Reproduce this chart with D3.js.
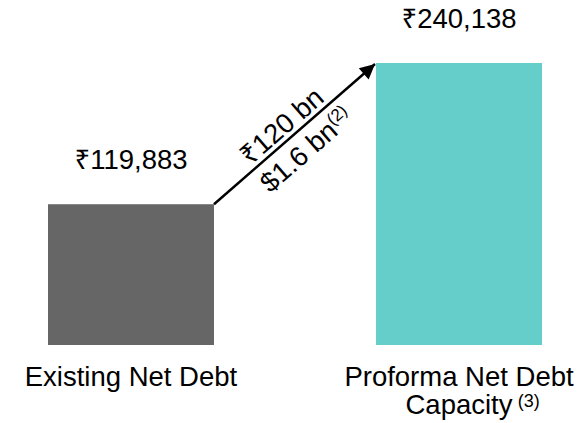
<!DOCTYPE html>
<html><head><meta charset="utf-8">
<script src="https://cdn.jsdelivr.net/npm/d3@7"></script>
<style>
body{margin:0;background:#fff;}
text{font-family:"Liberation Sans",Arial,sans-serif;fill:#000;}
</style></head>
<body>
<svg id="c" width="585" height="423"></svg>
<script>
const categories = ["Existing Net Debt", "Proforma Net Debt Capacity"];
const values = [119883, 240138];
const valueLabels = ["₹119,883", "₹240,138"];
const categoryLines = [["Existing Net Debt"], ["Proforma Net Debt", "Capacity"]];
const categoryNotes = ["", "(3)"];
const colors = ["#666666", "#66CECA"];
const arrowTop = "₹120 bn";
const arrowBottom = "$1.6 bn";
const arrowNote = "(2)";

const svg = d3.select("#c");
const x = d3.scaleBand().domain(categories).range([48, 542]).paddingInner(0.494);
const y = d3.scaleLinear().domain([0, 240138]).range([345, 63]);
const fs = 27.5;

function rupeeText(sel, str) {
  if (str.startsWith("₹")) {
    sel.append("tspan").style("font-family", "'Noto Sans', sans-serif").text("₹");
    sel.append("tspan").text(str.slice(1));
  } else sel.append("tspan").text(str);
}

svg.selectAll("rect.bar").data(values).enter().append("rect")
  .attr("x", (d,i)=>x(categories[i]))
  .attr("y", d=>y(d))
  .attr("width", x.bandwidth())
  .attr("height", d=>y(0)-y(d))
  .attr("fill", (d,i)=>colors[i]);

values.forEach((d,i)=>{
  const t = svg.append("text")
    .attr("x", x(categories[i])+x.bandwidth()/2)
    .attr("y", y(d)-35)
    .attr("text-anchor","middle")
    .attr("font-size", fs);
  rupeeText(t, valueLabels[i]);
});

categories.forEach((c,i)=>{
  const cx = x(c)+x.bandwidth()/2;
  const lines = categoryLines[i];
  lines.forEach((ln,j)=>{
    const last = j===lines.length-1 && categoryNotes[i];
    const by = 386 + j*28;
    const t = svg.append("text").attr("x", cx).attr("y", by)
      .attr("text-anchor","middle").attr("font-size", fs).text(ln);
    if (last) {
      const bb = t.node().getBBox();
      svg.append("text").attr("x", bb.x + bb.width + 5).attr("y", by - 7)
        .attr("font-size", 18).text(categoryNotes[i]);
    }
  });
});

// arrow
const x0 = x(categories[0]) + x.bandwidth(), y0 = y(values[0]);
const x1 = x(categories[1]), y1 = y(values[1]);
const ang = Math.atan2(y1-y0, x1-x0);
const defs = svg.append("defs");
defs.append("marker").attr("id","ah").attr("viewBox","0 0 10 10").attr("refX",10).attr("refY",5)
  .attr("markerWidth",7).attr("markerHeight",6).attr("markerUnits","strokeWidth").attr("orient","auto")
  .append("path").attr("d","M0,0 L10,5 L0,10 Z").attr("fill","#000");
svg.append("line").attr("x1",x0).attr("y1",y0).attr("x2",x1-1).attr("y2",y1+1)
  .attr("stroke","#000").attr("stroke-width",2.5).attr("marker-end","url(#ah)");

const mx=(x0+x1)/2, my=(y0+y1)/2;
const g = svg.append("g").attr("transform",`translate(${mx},${my}) rotate(${ang*180/Math.PI})`);
const tt = g.append("text").attr("x",-5).attr("y",-5).attr("text-anchor","middle").attr("font-size",fs);
rupeeText(tt, arrowTop);
const tb = g.append("text").attr("x",-2).attr("y",29).attr("text-anchor","middle").attr("font-size",fs);
tb.append("tspan").text(arrowBottom);
tb.append("tspan").attr("font-size",17).attr("dy",-10).text(arrowNote);
</script>
</body></html>
